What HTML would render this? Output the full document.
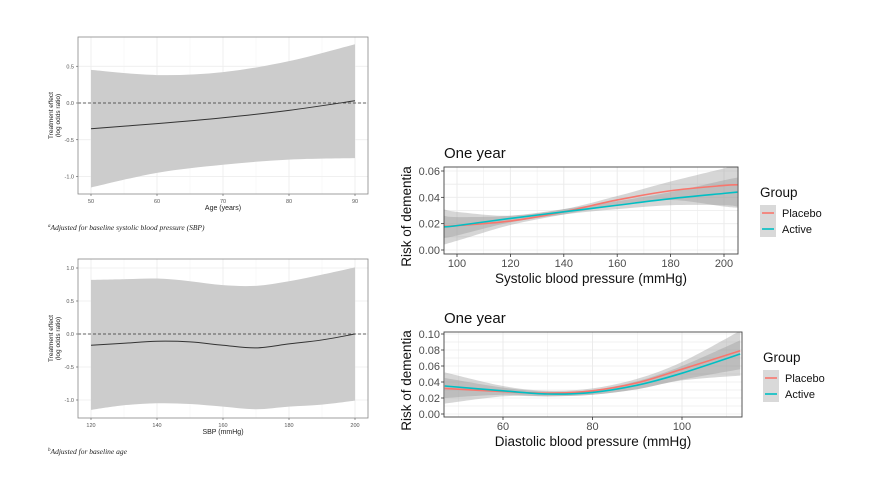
<!DOCTYPE html>
<html><head><meta charset="utf-8"><style>
html,body{margin:0;padding:0;background:#fff}
svg{display:block;font-family:"Liberation Sans",sans-serif}
</style></head><body>
<svg id="fig" width="874" height="478" viewBox="0 0 874 478" xmlns="http://www.w3.org/2000/svg"></svg>
<script>
// ---- Panel A data (treatment effect vs age)
const ageX=[50,60,70,80,90];
const ageEst=[-0.35,-0.28,-0.2,-0.1,0.03];
const ageUp=[0.45,0.38,0.42,0.57,0.8];
const ageLo=[-1.15,-0.95,-0.84,-0.77,-0.75];
const ageXTicks=[50,60,70,80,90];
const effYTicksA=[0.5,0,-0.5,-1];
// ---- Panel B data (treatment effect vs SBP)
const sbpX=[120,130,140,150,160,170,180,190,200];
const sbpEst=[-0.17,-0.14,-0.11,-0.12,-0.17,-0.21,-0.15,-0.09,0.0];
const sbpUp=[0.82,0.83,0.84,0.8,0.74,0.73,0.8,0.9,1.01];
const sbpLo=[-1.15,-1.08,-1.05,-1.06,-1.1,-1.14,-1.1,-1.07,-1.01];
const sbpXTicks=[120,140,160,180,200];
const effYTicksB=[1,0.5,0,-0.5,-1];
// ---- Panel C data (risk vs systolic)
const sysX=[95,100,120,140,160,180,200,205];
const sysPlacebo=[0.018,0.0185,0.022,0.029,0.038,0.045,0.049,0.0495];
const sysActive=[0.0175,0.0185,0.024,0.029,0.034,0.039,0.043,0.044];
const sysPlUp=[0.031,0.029,0.026,0.031,0.041,0.052,0.062,0.065];
const sysPlLo=[0.004,0.007,0.019,0.027,0.034,0.038,0.033,0.032];
const sysAcUp=[0.026,0.025,0.026,0.031,0.037,0.044,0.053,0.055];
const sysAcLo=[0.009,0.011,0.021,0.027,0.031,0.034,0.034,0.033];
const sysXTicks=[100,120,140,160,180,200];
const riskYTicksC=[0,0.02,0.04,0.06];
// ---- Panel D data (risk vs diastolic)
const diaX=[47,60,70,80,90,100,113];
const diaPlacebo=[0.032,0.028,0.026,0.029,0.039,0.056,0.079];
const diaActive=[0.035,0.029,0.025,0.027,0.036,0.051,0.075];
const diaUp=[0.052,0.035,0.029,0.032,0.044,0.065,0.104];
const diaLo=[0.013,0.022,0.022,0.024,0.031,0.042,0.048];
const diaAcUp=[0.045,0.033,0.028,0.030,0.041,0.060,0.092];
const diaAcLo=[0.020,0.024,0.022,0.024,0.031,0.043,0.056];
const diaXTicks=[60,80,100];
const riskYTicksD=[0,0.02,0.04,0.06,0.08,0.1];

const NS="http://www.w3.org/2000/svg";
const fig=document.getElementById('fig');
function mk(tag,attrs,parent,text){const e=document.createElementNS(NS,tag);for(const k in attrs)e.setAttribute(k,attrs[k]);if(text!==undefined)e.textContent=text;(parent||fig).appendChild(e);return e;}
function lin(d0,d1,r0,r1){return v=>r0+(v-d0)*(r1-r0)/(d1-d0);}
function smooth(pts){let d='M'+pts[0][0]+','+pts[0][1];for(let i=0;i<pts.length-1;i++){const p0=pts[Math.max(0,i-1)],p1=pts[i],p2=pts[i+1],p3=pts[Math.min(pts.length-1,i+2)];const c1=[p1[0]+(p2[0]-p0[0])/6,p1[1]+(p2[1]-p0[1])/6],c2=[p2[0]-(p3[0]-p1[0])/6,p2[1]-(p3[1]-p1[1])/6];d+=' C'+c1[0]+','+c1[1]+' '+c2[0]+','+c2[1]+' '+p2[0]+','+p2[1];}return d;}
function band(xs,up,lo,sx,sy){const u=xs.map((x,i)=>[sx(x),sy(up[i])]);const l=xs.map((x,i)=>[sx(x),sy(lo[i])]).reverse();return smooth(u)+' L'+smooth(l).slice(1)+' Z';}
function line(xs,ys,sx,sy){return smooth(xs.map((x,i)=>[sx(x),sy(ys[i])]));}

// ===== Left panels =====
function leftPanel(o){
  const g=mk('g',{});
  
  
  const sx=lin(o.xd[0],o.xd[1],o.xr[0],o.xr[1]), sy=lin(o.yd[0],o.yd[1],o.yr[0],o.yr[1]);
  mk('rect',{x:o.box[0],y:o.box[1],width:o.box[2]-o.box[0],height:o.box[3]-o.box[1],fill:'#fff'},g);
  o.xt.forEach((t,i)=>{const x=sx(t);mk('line',{x1:x,x2:x,y1:o.box[1],y2:o.box[3],stroke:'#ebebeb','stroke-width':0.8},g);if(i<o.xt.length-1){const xm=sx((t+o.xt[i+1])/2);mk('line',{x1:xm,x2:xm,y1:o.box[1],y2:o.box[3],stroke:'#f4f4f4','stroke-width':0.5},g);}});
  o.yt.forEach(t=>{const y=sy(t);mk('line',{x1:o.box[0],x2:o.box[2],y1:y,y2:y,stroke:'#ebebeb','stroke-width':0.8},g);});
  const b=mk('path',{d:band(o.x,o.up,o.lo,sx,sy),fill:'#cccccc'},g);
  
  
  mk('line',{x1:o.box[0],x2:o.box[2],y1:sy(0),y2:sy(0),stroke:'#333','stroke-width':0.8,'stroke-dasharray':'3,2'},g);
  const l=mk('path',{d:line(o.x,o.est,sx,sy),fill:'none',stroke:'#333','stroke-width':1},g);
  
  
  mk('rect',{x:o.box[0],y:o.box[1],width:o.box[2]-o.box[0],height:o.box[3]-o.box[1],fill:'none',stroke:'#888','stroke-width':0.8},g);
  o.xt.forEach(t=>{const x=sx(t);mk('line',{x1:x,x2:x,y1:o.box[3],y2:o.box[3]+2,stroke:'#555','stroke-width':0.6},g);const tx=mk('text',{x:x,y:o.box[3]+9,'font-size':5.5,fill:'#555','text-anchor':'middle'},g,String(t));});
  o.yt.forEach(t=>{const y=sy(t);mk('line',{x1:o.box[0]-2,x2:o.box[0],y1:y,y2:y,stroke:'#555','stroke-width':0.6},g);const tx=mk('text',{x:o.box[0]-4,y:y+2,'font-size':5.5,fill:'#555','text-anchor':'end'},g,t.toFixed(1));});
  const xt=mk('text',{x:(o.box[0]+o.box[2])/2,y:o.box[3]+16,'font-size':7,fill:'#222','text-anchor':'middle'},g,o.xlab);
  
  const cy=(o.box[1]+o.box[3])/2;
  const yt=mk('text',{transform:`translate(${o.box[0]-25},${cy}) rotate(-90)`,'font-size':6.5,fill:'#222','text-anchor':'middle'},g);
  
  mk('tspan',{x:0,dy:0},yt,'Treatment effect');mk('tspan',{x:0,dy:7},yt,'(log odds ratio)');
  const fn=mk('text',{x:48,y:o.fy,'font-size':7.5,'font-family':'"Liberation Serif",serif','font-style':'italic',fill:'#222'},g);
  
  mk('tspan',{'font-size':5,dy:-3},fn,o.fmark);mk('tspan',{dy:3},fn,o.ftext);
}
leftPanel({name:'age-effect-chart',box:[78,37,368,194],xd:[50,90],xr:[91,355],yd:[0,-1],yr:[103,176.5],x:ageX,est:ageEst,up:ageUp,lo:ageLo,xt:ageXTicks,yt:effYTicksA,xlab:'Age (years)',fy:230,fmark:'a',ftext:'Adjusted for baseline systolic blood pressure (SBP)'});
leftPanel({name:'sbp-effect-chart',box:[78,259,368,418],xd:[120,200],xr:[91,355],yd:[0,1],yr:[334,268],x:sbpX,est:sbpEst,up:sbpUp,lo:sbpLo,xt:sbpXTicks,yt:effYTicksB,xlab:'SBP (mmHg)',fy:454,fmark:'b',ftext:'Adjusted for baseline age'});

// ===== Right panels =====
function rightPanel(o){
  const g=mk('g',{});
  
  
  const sx=lin(o.xd[0],o.xd[1],o.xr[0],o.xr[1]), sy=lin(o.yd[0],o.yd[1],o.yr[0],o.yr[1]);
  const [L,T,R,B]=o.box;
  const cp=mk('clipPath',{id:o.name+'-clip'},g);mk('rect',{x:L,y:T,width:R-L,height:B-T},cp);
  mk('rect',{x:L,y:T,width:R-L,height:B-T,fill:'#fff'},g);
  const inner=mk('g',{'clip-path':`url(#${o.name}-clip)`},g);
  const xs=o.xt, step=xs[1]-xs[0];
  for(let v=xs[0]-step;v<=xs[xs.length-1]+step;v+=step/2){const x=sx(v);mk('line',{x1:x,x2:x,y1:T,y2:B,stroke:'#ebebeb','stroke-width':(Math.abs((v-xs[0])%step)<1e-9)?1:0.5},inner);}
  const ys=o.yt, ystep=ys[1]-ys[0];
  for(let v=ys[0];v<=ys[ys.length-1]+1e-9;v+=ystep/2){const y=sy(v);mk('line',{x1:L,x2:R,y1:y,y2:y,stroke:'#ebebeb','stroke-width':0.8},inner);}
  const b1=mk('path',{d:band(o.x,o.pu,o.pl,sx,sy),fill:'#999','fill-opacity':0.4},inner);
  
  const b2=mk('path',{d:band(o.x,o.au,o.al,sx,sy),fill:'#999','fill-opacity':0.4},inner);
  
  const l1=mk('path',{d:line(o.x,o.p,sx,sy),fill:'none',stroke:'#f8766d','stroke-width':1.6},inner);
  
  const l2=mk('path',{d:line(o.x,o.a,sx,sy),fill:'none',stroke:'#00bfc4','stroke-width':1.6},inner);
  
  mk('rect',{x:L,y:T,width:R-L,height:B-T,fill:'none',stroke:'#444','stroke-width':0.9},g);
  o.xt.forEach(t=>{const x=sx(t);mk('line',{x1:x,x2:x,y1:B,y2:B+3,stroke:'#333','stroke-width':0.8},g);const tx=mk('text',{x:x,y:B+13,'font-size':11,fill:'#4d4d4d','text-anchor':'middle'},g,String(t));});
  o.yt.forEach(t=>{const y=sy(t);mk('line',{x1:L-3,x2:L,y1:y,y2:y,stroke:'#333','stroke-width':0.8},g);const tx=mk('text',{x:L-4,y:y+4,'font-size':11,fill:'#4d4d4d','text-anchor':'end'},g,t.toFixed(2));});
  const ti=mk('text',{x:L,y:T-9,'font-size':15,fill:'#111'},g,'One year');
  
  const xt=mk('text',{x:(L+R)/2,y:B+29,'font-size':13.5,fill:'#111','text-anchor':'middle'},g,o.xlab);
  
  const yt=mk('text',{transform:`translate(${L-33},${(T+B)/2+6}) rotate(-90)`,'font-size':13.5,fill:'#111','text-anchor':'middle'},g,'Risk of dementia');
  
  const lg=mk('g',{},g);
  
  mk('text',{x:o.lx,y:o.ly,'font-size':13.5,fill:'#111'},lg,'Group');
  [['Placebo','#f8766d'],['Active','#00bfc4']].forEach((e,i)=>{const y=o.ly+16+i*16;const it=mk('g',{},lg);mk('rect',{x:o.lx,y:y-8,width:16,height:16,fill:'#d9d9d9'},it);mk('line',{x1:o.lx+2,x2:o.lx+14,y1:y,y2:y,stroke:e[1],'stroke-width':1.6},it);mk('text',{x:o.lx+22,y:y+4,'font-size':11,fill:'#111'},it,e[0]);});
}
rightPanel({name:'systolic-risk-chart',box:[444,167,738,254],xd:[100,200],xr:[457,724],yd:[0,0.06],yr:[250,171],x:sysX,p:sysPlacebo,a:sysActive,pu:sysPlUp,pl:sysPlLo,au:sysAcUp,al:sysAcLo,xt:sysXTicks,yt:riskYTicksC,xlab:'Systolic blood pressure (mmHg)',lx:760,ly:197});
rightPanel({name:'diastolic-risk-chart',box:[444,332,742,417],xd:[60,100],xr:[503,682],yd:[0,0.1],yr:[414,334],x:diaX,p:diaPlacebo,a:diaActive,pu:diaUp,pl:diaLo,au:diaAcUp,al:diaAcLo,xt:diaXTicks,yt:riskYTicksD,xlab:'Diastolic blood pressure (mmHg)',lx:763,ly:362});
</script>
</body></html>
